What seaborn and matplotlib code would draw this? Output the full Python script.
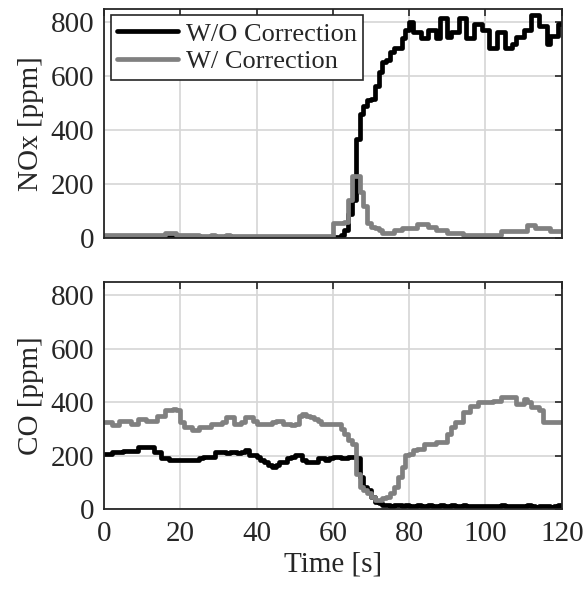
import numpy as np
import pandas as pd
import matplotlib
matplotlib.use('Agg')
import matplotlib.pyplot as plt
import seaborn as sns

# time axis [s]
time = list(range(0, 121))

# NOx [ppm]
nox_wo = [2, 2, 3, 2, 2, 3, 2, 2, 3, 2,
          2, 3, 2, 2, 3, 2, 4, 4, 3, 2,
          2, 2, 3, 2, 2, 2, 3, 2, 2, 2,
          2, 3, 2, 2, 2, 3, 2, 2, 2, 2,
          3, 2, 2, 2, 2, 3, 2, 2, 2, 2,
          2, 2, 3, 2, 2, 2, 2, 3, 2, 2,
          2, 3, 10, 30, 90, 140, 366, 460, 490, 510,
          515, 565, 615, 653, 660, 690, 703, 703, 740, 770,
          802, 765, 765, 740, 740, 770, 770, 740, 815, 815,
          745, 765, 765, 815, 815, 740, 740, 795, 795, 770,
          770, 703, 703, 765, 765, 703, 703, 720, 745, 745,
          770, 770, 827, 827, 785, 785, 720, 750, 750, 795,
          795]
nox_w = [10, 10, 11, 10, 10, 11, 10, 10, 11, 10,
         10, 11, 10, 10, 11, 12, 18, 20, 18, 12,
         10, 10, 11, 10, 10, 9, 9, 9, 10, 9,
         9, 9, 10, 9, 9, 9, 9, 8, 8, 9,
         8, 8, 8, 9, 8, 8, 8, 8, 9, 8,
         8, 8, 8, 8, 8, 9, 8, 8, 8, 9,
         55, 55, 55, 60, 142, 228, 228, 172, 120, 55,
         40, 36, 30, 17, 17, 17, 30, 30, 36, 36,
         36, 36, 52, 52, 52, 42, 42, 30, 30, 30,
         17, 17, 17, 17, 11, 11, 11, 11, 11, 11,
         11, 11, 11, 11, 24, 24, 24, 24, 24, 24,
         24, 49, 49, 36, 36, 36, 36, 27, 27, 27,
         27]

# CO [ppm]
co_wo = [207, 207, 214, 214, 214, 217, 217, 217, 217, 232,
         232, 232, 232, 214, 214, 189, 189, 183, 183, 183,
         183, 183, 183, 183, 183, 190, 195, 195, 195, 214,
         214, 214, 208, 214, 214, 208, 214, 220, 201, 201,
         195, 183, 176, 165, 158, 165, 176, 176, 189, 195,
         201, 201, 183, 176, 176, 176, 189, 189, 183, 189,
         195, 195, 189, 189, 195, 195, 189, 120, 83, 70,
         46, 27, 21, 15, 14, 12, 15, 13, 12, 14,
         12, 10, 14, 12, 10, 13, 11, 12, 14, 10,
         12, 13, 10, 11, 14, 12, 10, 9, 12, 11,
         10, 12, 9, 11, 13, 10, 9, 12, 10, 11,
         9, 13, 10, 8, 12, 9, 10, 8, 11, 14,
         10]
co_w = [325, 325, 313, 313, 331, 331, 331, 319, 319, 338,
        338, 331, 331, 331, 350, 350, 369, 369, 375, 369,
        325, 307, 307, 294, 294, 307, 307, 307, 319, 319,
        319, 325, 344, 344, 319, 319, 325, 344, 344, 331,
        319, 319, 319, 319, 325, 331, 331, 319, 319, 313,
        319, 350, 356, 350, 344, 338, 331, 319, 319, 319,
        319, 319, 300, 282, 260, 244, 130, 83, 71, 58,
        46, 34, 34, 40, 46, 58, 83, 120, 158, 201,
        207, 219, 226, 226, 245, 245, 245, 251, 251, 251,
        280, 307, 325, 325, 362, 362, 387, 387, 400, 400,
        400, 400, 406, 406, 418, 418, 418, 418, 394, 394,
        412, 400, 381, 381, 369, 325, 325, 325, 325, 325,
        325]

labels = ['W/O Correction', 'W/ Correction']
colors = {'W/O Correction': '#000000', 'W/ Correction': '#808080'}

sns.set_style('white')
plt.rcParams['font.family'] = ['Liberation Serif', 'DejaVu Serif']

df_nox = pd.DataFrame({'Time': time * 2, 'Value': nox_wo + nox_w,
                       'Case': [labels[0]] * len(time) + [labels[1]] * len(time)})
df_co = pd.DataFrame({'Time': time * 2, 'Value': co_wo + co_w,
                      'Case': [labels[0]] * len(time) + [labels[1]] * len(time)})

fig = plt.figure(figsize=(5.84, 5.89), dpi=100)
ax1 = fig.add_axes([0.178, 0.596, 0.784, 0.389])
ax2 = fig.add_axes([0.178, 0.136, 0.784, 0.385])

FS = 21      # ticks and axis labels
LFS = 19     # legend
LW = 3.4
for ax, df, ylab in [(ax1, df_nox, 'NOx [ppm]'), (ax2, df_co, 'CO [ppm]')]:
    sns.lineplot(data=df, x='Time', y='Value', hue='Case', palette=colors,
                 hue_order=labels, estimator=None, drawstyle='steps-post',
                 linewidth=LW, solid_joinstyle='round', solid_capstyle='round',
                 ax=ax)
    ax.set_xlim(0, 120)
    ax.set_ylim(0, 850)
    ax.set_xticks([0, 20, 40, 60, 80, 100, 120])
    ax.set_yticks([0, 200, 400, 600, 800])
    ax.grid(True, color='#d6d6d6', linewidth=1.2)
    ax.set_axisbelow(True)
    ax.tick_params(direction='in', length=5, width=1.2, top=True, right=True,
                   labelsize=FS, colors='#262626', labelcolor='#262626')
    ax.tick_params(axis='x', pad=9)
    ax.tick_params(axis='y', pad=7)
    for sp in ax.spines.values():
        sp.set_color('#262626')
        sp.set_linewidth(1.3)
    ax.set_ylabel(ylab, fontsize=FS, color='#262626', labelpad=5)
    ax.set_xlabel('')

ax1.tick_params(labelbottom=False)
ax2.set_xlabel('Time [s]', fontsize=FS, color='#262626', labelpad=3)

ax2.get_legend().remove()
leg = ax1.legend(loc='upper left', fontsize=LFS, frameon=True, fancybox=False,
                 edgecolor='#262626', framealpha=1, borderaxespad=0.25,
                 handlelength=2.3, handletextpad=0.3, labelspacing=0.15,
                 borderpad=0.25)
leg.get_frame().set_linewidth(1.2)
for line in leg.get_lines():
    line.set_linewidth(LW)

fig.savefig('out.png', dpi=100)
